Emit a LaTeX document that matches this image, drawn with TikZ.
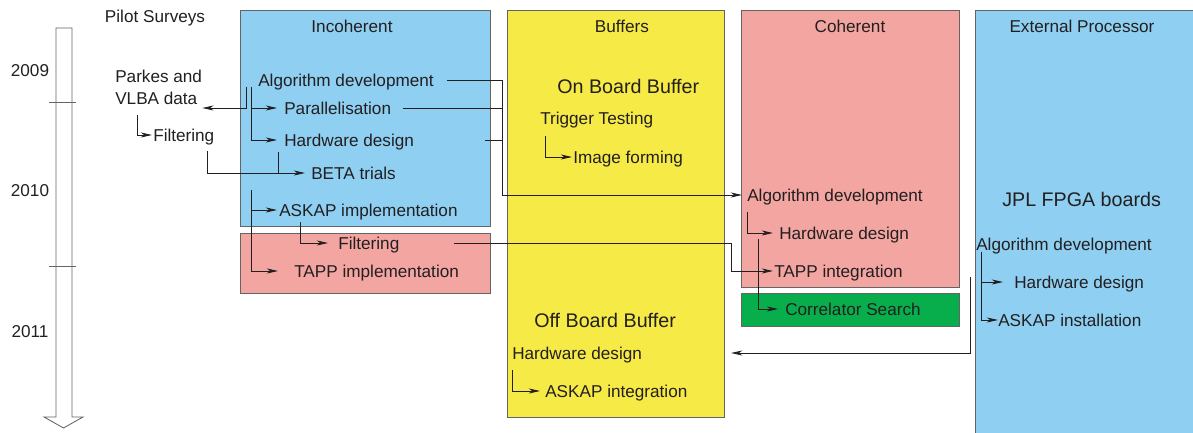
\documentclass[tikz,border=0pt]{standalone}
\usepackage{fontspec}
\setmainfont{Liberation Sans}
\usetikzlibrary{arrows.meta, calc}
\definecolor{skyblue}{RGB}{142,207,242}
\definecolor{lemon}{RGB}{246,234,70}
\definecolor{salmon}{RGB}{243,165,161}
\definecolor{leaf}{RGB}{8,174,76}
\definecolor{edge}{RGB}{100,100,100}
\definecolor{ink}{RGB}{35,31,32}

\begin{document}
\begin{tikzpicture}[x=0.025cm, y=-0.025cm,
        region/.style={rectangle, draw=edge, line width=0.7pt, anchor=north west, inner sep=0pt},
        title/.style={inner sep=0pt, text=ink, text height=8.6pt, text depth=0pt, font=\fontsize{12.2}{14}\selectfont},
        task/.style={inner sep=0pt, anchor=west, text=ink, text height=8.6pt, text depth=0pt, font=\fontsize{12.2}{14}\selectfont},
        stage/.style={task, text height=10pt, font=\fontsize{14}{16}\selectfont},
        link/.style={draw=ink, line width=0.6pt},
        arrow/.style={link, -{Stealth[length=8pt, width=3.6pt, inset=2.4pt]}}
        ]

        \useasboundingbox (0,0) rectangle (1193,433);

        % Time line
        \draw[draw=edge, fill=white, line width=0.6pt] (56,28) -- (72,28) -- (72,417) -- (83,417) -- (63.5,428) -- (44,417) -- (56,417) -- cycle;
        \draw[draw=edge, line width=0.6pt] (49,102) -- (76,102);
        \draw[draw=edge, line width=0.6pt] (49,266) -- (76,266);
        \node (y2009) [title] at (30,70) {2009};
        \node (y2010) [title] at (30,190) {2010};
        \node (y2011) [title] at (30,331) {2011};

        % Regions
        \node (incoh) [region, fill=skyblue, minimum width=6.25cm, minimum height=5.4cm] at (240,10) {};
        \node (incohP) [region, fill=salmon, minimum width=6.25cm, minimum height=1.5cm] at (240,233) {};
        \node (buffers) [region, fill=lemon, minimum width=5.425cm, minimum height=10.175cm] at (507,10) {};
        \node (coh) [region, fill=salmon, minimum width=5.45cm, minimum height=6.925cm] at (741,10) {};
        \node (corr) [region, fill=leaf, minimum width=5.45cm, minimum height=0.825cm] at (741,293) {};
        \node (ext) [region, fill=skyblue, minimum width=6cm, minimum height=11cm] at (975,10) {};

        % Titles
        \node (pilot) [title] at (155,16) {Pilot Surveys};
        \node (incohT) [title] at (352,26) {Incoherent};
        \node (buffersT) [title] at (622,26) {Buffers};
        \node (cohT) [title] at (850,26) {Coherent};
        \node (extT) [title] at (1082,26) {External Processor};

        % Pilot surveys
        \node (parkes) [inner sep=0pt, anchor=north west, align=left, text=ink, font=\fontsize{12.2}{15.6}\selectfont] at (115,70) {Parkes and\\VLBA data};
        \node (filtL) [task] at (153,135) {Filtering};

        % Incoherent
        \node (algI) [task] at (258,80) {Algorithm development};
        \node (para) [task] at (284,108) {Parallelisation};
        \node (hwI) [task] at (284,140) {Hardware design};
        \node (beta) [task] at (311,173) {BETA trials};
        \node (askapI) [task] at (279,210) {ASKAP implementation};
        \node (filtP) [task] at (338,243) {Filtering};
        \node (tappI) [task] at (294,271) {TAPP implementation};

        % Buffers
        \node (onboard) [stage] at (557,86) {On Board Buffer};
        \node (trig) [task] at (540,118) {Trigger Testing};
        \node (image) [task] at (573,157) {Image forming};
        \node (offboard) [stage] at (534,320) {Off Board Buffer};
        \node (hwB) [task] at (512,353) {Hardware design};
        \node (askapB) [task] at (545,391) {ASKAP integration};

        % Coherent
        \node (algC) [task] at (747,195) {Algorithm development};
        \node (hwC) [task] at (779,233) {Hardware design};
        \node (tappC) [task] at (774,271) {TAPP integration};
        \node (corrS) [task] at (785,309) {Correlator Search};

        % External processor
        \node (jpl) [stage] at (1002,199) {JPL FPGA boards};
        \node (algE) [task] at (976,244) {Algorithm development};
        \node (hwE) [task] at (1014,282) {Hardware design};
        \node (askapE) [task] at (998,320) {ASKAP installation};

        \coordinate (trunk) at ($(buffers.west)+(-5,0)$);
        \coordinate (feed) at ($(ext.north west)+(-5,267)$);

        % Arrows
        \draw [arrow] ($(algI.west)+(-12,7)$) |- (parkes.east |- para.west);
        \draw [arrow] ($(algI.west)+(-7,7)$) |- ($(para.west)+(-7,0)$);
        \draw [arrow] ($(algI.west)+(-7,7)$) |- ($(hwI.west)+(-7,0)$);
        \draw [arrow] ($(parkes.south west)+(22,10)$) |- ($(filtL.west)+(-1,0)$);
        \draw [arrow] ($(filtL.east)+(-7,16)$) |- ($(beta.west)+(-6,0)$);
        \draw [link] ($(hwI.west)+(-6,12)$) coordinate (hb) -- (hb |- beta.west);
        \draw [arrow] ($(askapI.west)+(-28,-20)$) |- ($(askapI.west)+(-2,0)$);
        \draw [arrow] ($(askapI.west)+(-28,-20)$) |- ($(tappI.west)+(-16,0)$);
        \draw [arrow] ($(askapI.west)+(21,12)$) |- ($(filtP.west)+(-10,0)$);
        \draw [arrow] ($(algI.east)+(13,0)$) -| (trunk |- algC.west) -- ($(algC.west)+(-5,0)$);
        \draw [link] ($(para.east)+(12,0)$) -- (trunk |- para.west);
        \draw [link] ($(hwI.east)+(71,0)$) -- (trunk |- hwI.west);
        \draw [arrow] ($(trig.west)+(5,18)$) |- ($(image.west)+(-1,0)$);
        \draw [arrow] ($(filtP.east)+(54,0)$) -| ($(coh.west |- tappC.west)+(-10,0)$) -- ($(tappC.west)+(-1,0)$);
        \draw [arrow] ($(algC.west)+(0,17)$) |- ($(hwC.west)+(-6,0)$);
        \draw [arrow] ($(hwC.west)+(-21,6)$) |- ($(corrS.west)+(-7,0)$);
        \draw [arrow] (feed) |- ($(buffers.east |- hwB.west)+(6,0)$);
        \draw [arrow] ($(algE.west)+(5,8)$) |- ($(hwE.west)+(-11,0)$);
        \draw [arrow] ($(algE.west)+(5,8)$) |- (askapE.west);
        \draw [arrow] ($(hwB.west)+(0,17)$) |- ($(askapB.west)+(-5,0)$);

\end{tikzpicture}
\end{document}
